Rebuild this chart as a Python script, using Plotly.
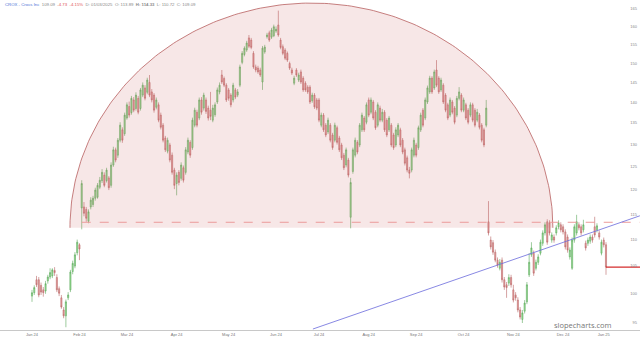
import numpy as np
import plotly.graph_objects as go

# ---- data ----
opens = [
    99.6, 100.2, 102.5, 102.5, 101.5, 100.7, 100.5, 102.3, 103, 103.2, 104.2, 102.9, 100.9, 99.3, 97.2, 96.2,
    99.3, 100.7, 104, 105, 107.5, 109, 116.3, 116.5, 116, 113.6, 116.5, 117, 118.3, 118.5, 120.6,
    122, 123.2, 122, 122.6, 121, 125.4, 128.8, 127.6, 131, 133.4, 132.5, 136.2, 139, 137.5, 140.6, 138.5,
    141, 138.5, 141.8, 143.6, 142.5, 145, 142.6, 141.8, 138.8, 139.4, 136.9, 134.5, 131.5, 128.5, 129.9,
    127.6, 124.3, 121.4, 123.8, 122.5, 124.8, 123.8, 128.3, 130.5, 129.3, 134.5, 137.6, 136.2, 140.6, 138.6,
    140.6, 138.6, 138.1, 135.7, 137, 140.1, 142.6, 146.9, 146, 144.3, 143.1, 141.8, 140.6, 143.1, 141.8,
    144.3, 150.2, 152.3, 153.5, 156.8, 156.2, 152.6, 149, 148.7, 148.2, 145.1, 153, 157.1, 158.2, 157,
    157.4, 158.7, 160.4, 156.2, 154.4, 153.5, 152.6, 149.9, 148.2, 144.8, 148.2, 145.6, 147.7, 146.1,
    144.8, 143.8, 143.8, 140.4, 141.8, 140.6, 140.6,
    134.5, 136.9, 134.5, 132.9, 134.5, 132.2, 131, 133.9, 131.5, 129.9, 127.6, 125.4, 126.5, 114.4, 124,
    127.6, 130.5, 129.9, 133.4, 136.2, 135.2, 140.6, 137.6, 140.1, 137.6, 134.5, 138.6, 135.7, 137.6,
    135.7, 133.4, 134.5, 132.2, 129.9, 132.2, 133.4, 131, 128.8, 127, 124.3, 124.3, 127.6, 129.9, 129.3,
    133.4, 138.1, 136.2, 140.1, 142.6, 146.1, 143.6, 148.2, 146.1, 143.1, 144.3, 141.8, 139.4, 136.9,
    140.1, 138.6, 136.9, 141, 141.8, 138.1, 139.4, 138.1, 136.9, 139.4, 138.1, 135.7, 136.9, 134.5, 133.4,
    134.5,
    113.5, 109.9, 109.4, 107.6, 106.1, 104.6, 106.1, 102.5, 101.6, 101.9, 102.9, 100.7, 99.8, 98.9, 97.2,
    95.6, 97.0, 98.6, 103.4, 107.1, 107.4, 104.6, 105.7, 107.4, 109.3, 111.3, 113.5, 113.3, 109.9, 110.5,
    111.3, 112.5, 112.9, 112.5, 111.5, 110.5, 106.7, 104.6, 109.9, 111.3, 112.9, 112.5, 111.9, 109.3,
    109.3, 109.7, 110.5, 112.5, 111.9, 111.3, 107.4, 109.9, 109,
]
highs = [
    100.7, 101.5, 103.2, 103, 102, 101.2, 102.3, 103.4, 104.6, 104.6, 104.8, 103.5, 101.3, 99.8, 97.7, 99,
    100.3, 104.3, 106, 107.6, 110, 109.3, 122.1, 117.5, 116.5, 116, 118.5, 118.8, 120.5, 121.5, 122.8,
    124.5, 123.8, 124.8, 123, 126, 129.5, 129.3, 131.5, 135.2, 134, 137.5, 140, 140.2, 141.6, 141.3, 142.5,
    141.6, 143.6, 145, 144.3, 146.2, 146.9, 143.3, 142.3, 141.2, 140, 137.5, 135, 132, 131.6, 130.4,
    128.2, 124.8, 123.8, 124.3, 126, 125.3, 129.4, 131.6, 131, 136.3, 138.7, 138.2, 141.2, 141.3, 142.4,
    141.2, 139.2, 142.6, 139.4, 140, 143.7, 145, 148.2, 146.5, 144.8, 143.6, 142.3, 144.9, 143.6, 143.3,
    149.6, 153.2, 154.5, 156, 157.6, 156.8, 153.2, 149.6, 149.3, 148.8, 154.6, 154.9, 158.2, 158.8, 159.6,
    160.5, 160, 164.5, 156.8, 155, 154, 153.1, 150.4, 148.8, 146.7, 148.7, 147.5, 148.3, 146.6,
    145.3, 144.3, 144.3, 142.4, 142.3, 141.1, 141.1,
    137.5, 137.4, 135, 136.3, 135, 132.7, 135.1, 134.4, 132, 130.4, 128.1, 129.3, 127, 122.6, 129.3,
    131.6, 131, 135, 137.5, 136.7, 140, 141.2, 141.2, 140.6, 138.1, 140, 139.2, 138.4, 138.1,
    136.2, 136.7, 135, 132.7, 134, 135, 133.9, 131.5, 129.3, 127.5, 125, 129.3, 131.6, 130.4, 134.4,
    137.5, 138.6, 141.2, 144.2, 146.7, 146.6, 148.3, 150.8, 146.6, 146.2, 144.8, 142.3, 139.9, 141.2,
    140.6, 139.1, 141.6, 143.8, 142.3, 141.2, 139.9, 138.6, 140, 139.9, 138.6, 138.4, 137.4, 135, 133.9,
    140.6,
    117.7, 110.6, 109.9, 108.1, 106.6, 106.3, 106.6, 103, 102.1, 103.5, 103.4, 101.6, 100.3, 99.4, 97.7,
    97.2, 98.9, 102.1, 107.4, 109.5, 107.9, 106.2, 107.2, 110, 111.8, 113.4, 114, 113.8, 111.4, 111,
    112.8, 113.8, 113.4, 113, 112, 111, 108.5, 110.4, 113, 114.9, 113.4, 113, 113.9, 109.8,
    110.4, 111, 111, 114.5, 113.2, 111.8, 110, 110.4, 109.5,
]
lows = [
    98.6, 99.8, 101.2, 99.4, 99.8, 99.5, 100, 101.8, 102.6, 102.8, 103.2, 100.3, 99.6, 97.4, 95.8, 94.3,
    98.9, 100.3, 103.5, 104.6, 107, 106.1, 112.0, 114.6, 113.5, 113.2, 116, 116.5, 117.8, 118.2, 120.2,
    121.5, 120.6, 121.6, 120, 120.5, 125, 126, 127, 130.5, 130.4, 132, 135.8, 136.3, 137, 137.6, 138,
    137.1, 138, 141.3, 140.5, 142, 141.3, 140, 137.5, 138.3, 135.2, 133.5, 130.5, 128.3, 128, 126,
    123.3, 120.2, 118.9, 121, 122, 121.6, 123.3, 127.8, 127, 128.8, 134, 134, 135.7, 137, 138,
    137.2, 135.6, 135.7, 135.2, 136.5, 139.6, 142, 144.6, 143.8, 140.1, 140.4, 138.8, 140, 140.8, 141.3,
    143.8, 149.7, 151.8, 153, 154, 153.7, 148.5, 147.6, 147.2, 146.4, 143.1, 152.5, 156.6, 155.7, 156.5,
    157, 158.2, 157.1, 153.7, 152.1, 150.8, 150.3, 148.2, 146.9, 144.3, 146.4, 145.1, 144.6, 142.6,
    142.6, 142.1, 139.6, 139.9, 138.4, 138.1, 135.2,
    134, 132.9, 131.7, 132.4, 130.5, 128.8, 130.5, 130, 128.3, 126.5, 124.3, 124.9, 122.7, 112.2, 123.5,
    127.1, 127.8, 129.4, 132.9, 132.9, 134.7, 136.4, 137.1, 135.7, 133.4, 134, 135.2, 135.2, 132.9,
    131.7, 132.9, 129.4, 128.8, 129.4, 131.7, 129.4, 127.8, 125.3, 123.8, 122.5, 123.8, 127.1, 127.1, 128.8,
    132.9, 134, 135.7, 139.6, 142.1, 142.1, 143.1, 143.8, 142.1, 142.6, 139.6, 137.6, 135.7, 136.4,
    137.1, 134.7, 136.4, 140.5, 137.6, 137.6, 135.7, 134.7, 136.4, 135.2, 134, 135.2, 133.5, 130.5, 129.4,
    134,
    110.8, 108.1, 107.1, 105.7, 104.7, 104.2, 102, 100.7, 99.3, 101.4, 101.1, 98.5, 98.8, 96.8, 95.6,
    95.0, 96.6, 98.2, 103, 106.7, 103.2, 104.2, 105.2, 107, 108.8, 110.8, 109, 110.8, 109.4, 109.4,
    110.8, 112, 111.4, 111, 108.1, 107.5, 106.2, 104.3, 109.4, 110.8, 111.8, 110.8, 111.4, 107.9,
    108.8, 109.2, 109.4, 110.4, 111.4, 110, 107, 108.5, 103.4,
]
closes = [
    100.2, 101.1, 101.6, 99.8, 100.3, 100.2, 101.8, 103, 103.8, 104.3, 103.8, 100.7, 100.1, 97.7, 96.2, 98.6,
    99.8, 103.9, 105.5, 107.1, 109.5, 108.2, 121.4, 115.2, 114.2, 115.5, 117.9, 118.3, 120, 121, 122.1,
    123.8, 121, 124.3, 120.5, 125.4, 128.8, 126.5, 131, 134.5, 131, 136.9, 139.4, 136.9, 141, 138.1, 141.8,
    137.6, 143.1, 144.3, 141, 145.6, 141.8, 140.6, 138.1, 140.6, 135.7, 134, 131, 128.8, 131, 126.5,
    123.8, 121, 123.2, 121.6, 125.4, 122.1, 128.8, 131, 127.6, 135.7, 138.1, 134.5, 140.6, 137.6, 141.8,
    137.8, 136.2, 136.6, 138.6, 139.4, 143.1, 144.3, 145.1, 144.3, 140.6, 141, 139.4, 144.3, 141.3, 142.6,
    149, 152.6, 154, 155.4, 154.5, 154.2, 149, 148.2, 147.7, 146.9, 154, 154.3, 157.6, 156.2, 159,
    159.9, 159.2, 157.6, 154.2, 152.6, 151.3, 150.8, 148.7, 147.4, 146.1, 146.9, 146.9, 145.1, 143.1,
    143.1, 142.6, 140.1, 141.8, 138.9, 138.6, 135.7,
    136.9, 133.4, 132.2, 135.7, 131, 129.3, 134.5, 130.5, 128.8, 127, 124.8, 128.8, 123.2, 121.6, 128.8,
    131, 128.3, 134.5, 136.9, 133.4, 139.4, 136.9, 140.6, 136.2, 133.9, 139.4, 135.7, 137.6, 133.4,
    132.2, 136.2, 129.9, 129.3, 133.4, 134.5, 129.9, 128.3, 125.8, 124.3, 123.6, 128.8, 131, 127.6, 133.9,
    136.9, 134.5, 140.6, 143.6, 146.1, 142.6, 147.7, 144.3, 142.6, 145.6, 140.1, 138.1, 136.2, 140.6,
    137.6, 135.2, 141, 142.6, 138.1, 140.6, 136.2, 135.2, 139.4, 135.7, 134.5, 137.6, 134, 131, 129.9,
    138.6,
    111.3, 108.6, 107.6, 106.1, 105.2, 105.7, 102.5, 101.2, 101.1, 102.9, 101.6, 98.9, 99.3, 97.2, 96.0,
    96.7, 98.4, 101.6, 105.7, 108.4, 103.7, 105.7, 106.7, 109.5, 111.3, 112.9, 109.5, 111.3, 110.9, 109.9,
    112.3, 113.3, 111.9, 111.5, 108.6, 108, 108, 109.9, 112.5, 113.5, 112.3, 111.3, 112.9, 108.4,
    109.9, 110.5, 109.9, 110.9, 112.7, 110.5, 109.5, 109, 104.8,
]
tick_index = [0, 21, 42, 64, 87, 108, 127, 149, 170, 191, 213, 235, 253]
tick_labels = ["Jan 24", "Feb 24", "Mar 24", "Apr 24", "May 24", "Jun 24", "Jul 24",
               "Aug 24", "Sep 24", "Oct 24", "Nov 24", "Dec 24", "Jan 25"]
price_ticks = [95, 100, 105, 110, 115, 120, 125, 130, 135, 140, 145, 150, 155, 160, 165]

# drawn annotations (dome, support line, trend line)
dome_left, dome_right = 16.8, 230.5
dome_base, dome_top = 112.3, 166.7
support_start, support_price = 22, 113.4
trend_x = [124.3, 269.0]
trend_y = [94.0, 114.7]

header = ("<span style='color:#4a6fd6'>CROX - Crocs Inc</span>  109.09  "
          "<span style='color:#e05555'>-4.73  -4.15%</span>  D: 01/03/2025  O: 113.89  "
          "<b>H: 114.33</b>  L: 110.72  C: 109.09")

n = len(closes)
x = list(range(n))
step = 574.0 / (n - 1)
xr = [-32.0 / step, 608.0 / step]

fig = go.Figure()

# dome (half ellipse in pixel space == log space)
t = np.linspace(0, np.pi, 200)
cx = (dome_left + dome_right) / 2
ax = (dome_right - dome_left) / 2
lb, lt = np.log10(dome_base), np.log10(dome_top)
dx = cx + ax * np.cos(t)
dy = 10 ** (lb + (lt - lb) * np.sin(t))
fig.add_trace(go.Scatter(x=list(dx) + [dome_right], y=list(dy) + [dome_base], fill="toself",
                         fillcolor="rgba(205,110,110,0.17)", line=dict(width=0), mode="lines",
                         hoverinfo="skip"))
fig.add_trace(go.Scatter(x=dx, y=dy, mode="lines", line=dict(color="#b86060", width=0.8),
                         hoverinfo="skip"))

# support dashed line
fig.add_trace(go.Scatter(x=[support_start, xr[1]], y=[support_price, support_price], mode="lines",
                         line=dict(color="#ec9a9a", width=1, dash="dash"), hoverinfo="skip"))
# trend line
fig.add_trace(go.Scatter(x=trend_x, y=trend_y, mode="lines",
                         line=dict(color="#6a6adc", width=0.8), hoverinfo="skip"))

fig.add_trace(go.Candlestick(
    x=x, open=opens, high=highs, low=lows, close=closes,
    increasing=dict(fillcolor="#9ee29a", line=dict(color="#5aa85a", width=0.6)),
    decreasing=dict(fillcolor="#e9a0a0", line=dict(color="#b86464", width=0.6)),
    whiskerwidth=0, hoverinfo="skip"))

# last price line
fig.add_trace(go.Scatter(x=[n - 1, xr[1]], y=[closes[-1], closes[-1]], mode="lines",
                         line=dict(color="#d42c2c", width=1.3), hoverinfo="skip"))

fig.update_layout(
    width=640, height=341, margin=dict(l=0, r=0, t=0, b=11),
    paper_bgcolor="white", plot_bgcolor="white", showlegend=False,
    font=dict(family="Liberation Sans, Arial, sans-serif", color="#888"),
    xaxis=dict(range=xr, tickmode="array", tickvals=tick_index, ticktext=tick_labels,
               showgrid=False, zeroline=False, showline=True, linecolor="#c8c8c8", linewidth=1,
               ticks="", tickfont=dict(size=4, color="#777"), rangeslider=dict(visible=False),
               fixedrange=True),
    yaxis=dict(type="log", range=[np.log10(93.84), np.log10(167.6)], side="right",
               ticklabelposition="inside", tickmode="array", tickvals=price_ticks,
               ticktext=[str(v) for v in price_ticks], showgrid=False, zeroline=False,
               showline=False, ticks="", tickfont=dict(size=4, color="#888"), fixedrange=True),
    annotations=[
        dict(text=header, xref="paper", yref="paper", x=0.004, y=0.999, xanchor="left",
             yanchor="top", showarrow=False, font=dict(size=4.3, color="#888")),
        dict(text="slopecharts.com", xref="paper", yref="paper", x=0.911, y=0.014,
             xanchor="center", yanchor="middle", showarrow=False,
             font=dict(size=7.5, color="#777", family="Open Sans, sans-serif")),
    ],
)

fig.write_html("out.html")
